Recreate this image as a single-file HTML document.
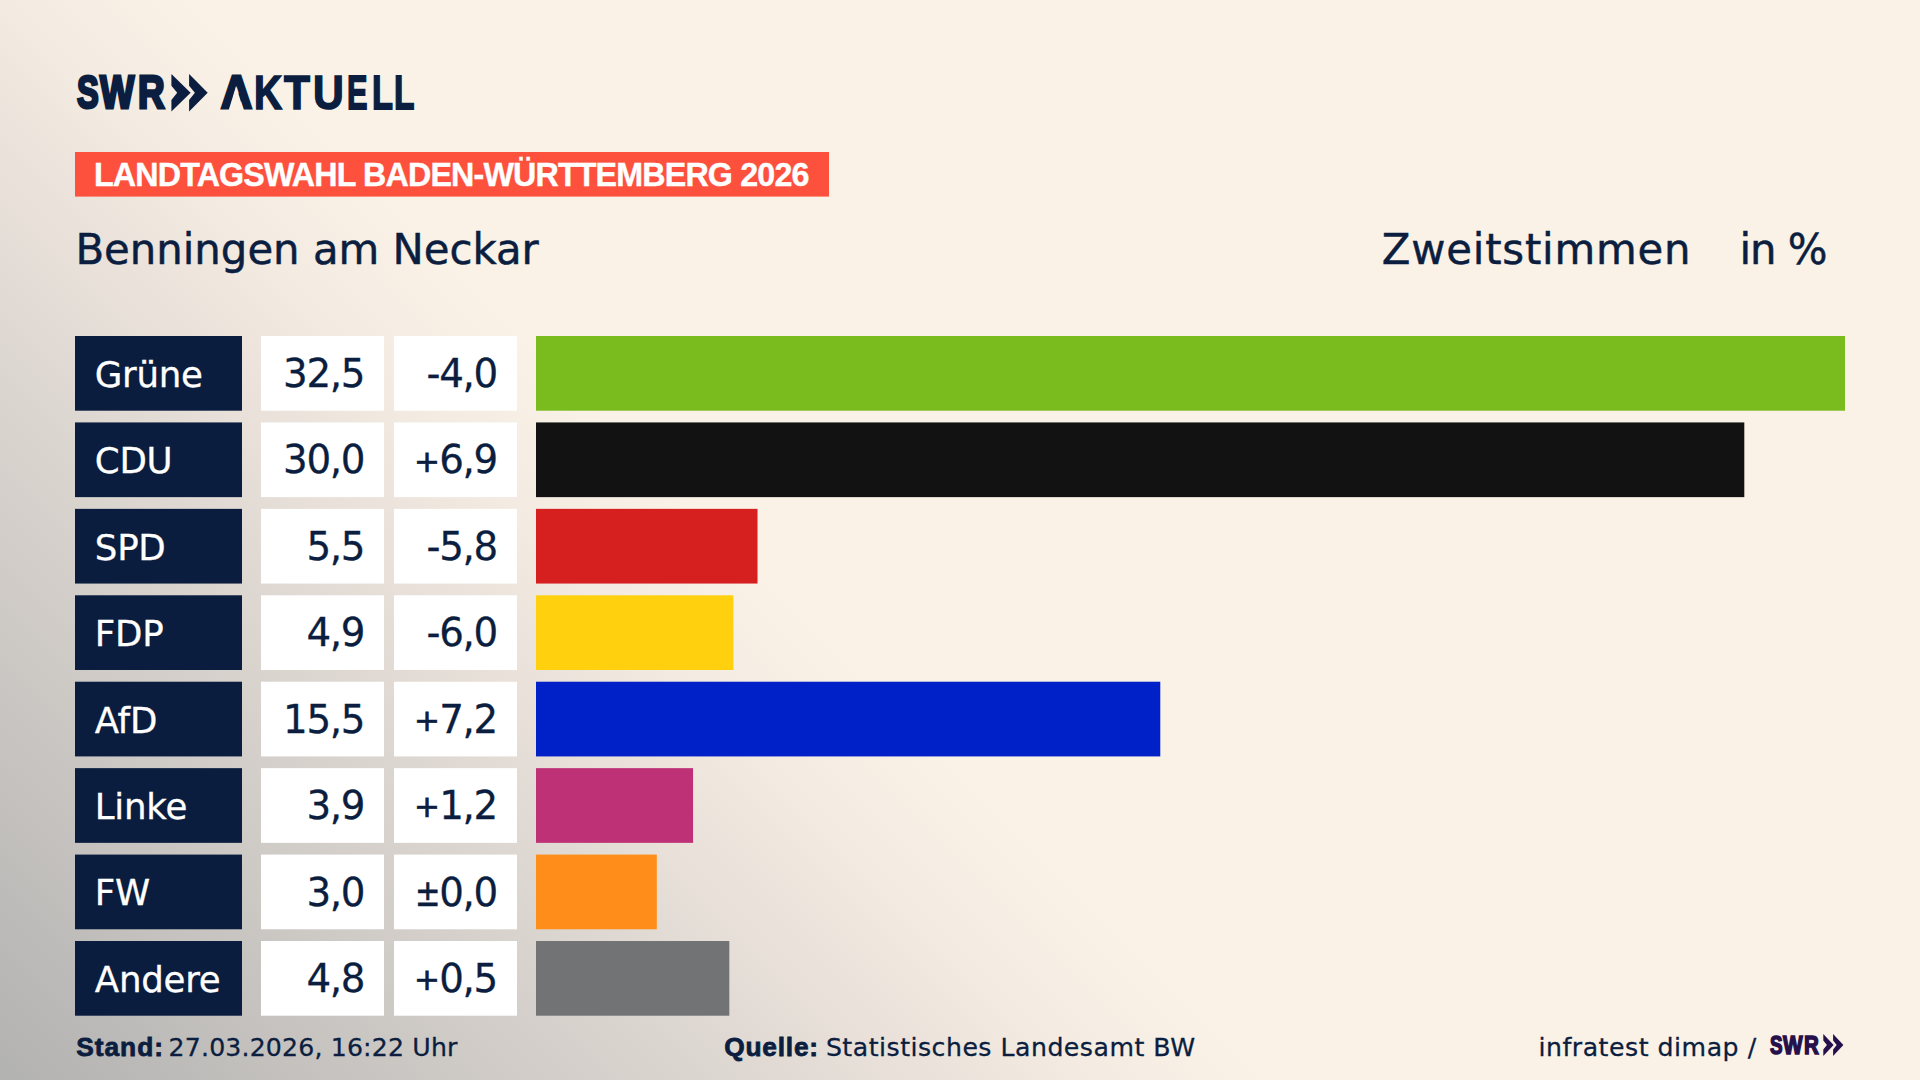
<!DOCTYPE html>
<html lang="de">
<head>
<meta charset="utf-8">
<title>Landtagswahl Baden-Württemberg 2026 – Benningen am Neckar – Zweitstimmen</title>
<style>
html,body{margin:0;padding:0;}
body{width:1920px;height:1080px;overflow:hidden;background:#faf2e7;}
#stage{position:relative;width:1920px;height:1080px;overflow:hidden;
 background:linear-gradient(45deg, rgb(178,178,177) 0%, rgb(196,193,190) 10%, rgb(213,208,203) 20%, rgb(232,224,217) 30%, rgb(243,234,225) 36%, rgb(250,242,231) 42.3%);
 font-family:"DejaVu Sans","Liberation Sans",sans-serif;color:#0b1e40;}
#shapes{position:absolute;left:0;top:0;}
.t{position:absolute;white-space:nowrap;line-height:1;}
.b{font-family:"Liberation Sans",sans-serif;font-weight:bold;}
.sx{display:inline-block;transform-origin:0 50%;}
.lt{display:inline-block;position:relative;transform-origin:0 50%;vertical-align:baseline;}
.cv{position:absolute;left:0;top:0;pointer-events:none;}
#banner{left:94.4px;top:158.3px;font-size:33.6px;color:#fff;letter-spacing:-0.87px;-webkit-text-stroke:0.4px #fff;}
#title{left:75.4px;top:229.0px;font-size:41.8px;-webkit-text-stroke:0.5px currentColor;}
#zw{left:1381.8px;top:229.0px;font-size:41.8px;letter-spacing:0.8px;-webkit-text-stroke:0.5px currentColor;}
#inp{left:1739.4px;top:229.0px;font-size:41.8px;letter-spacing:-1.0px;-webkit-text-stroke:0.5px currentColor;}
.row{position:absolute;left:0;width:1920px;height:74.7px;font-size:38.8px;line-height:74.7px;-webkit-text-stroke:0.3px currentColor;}
.row>span{position:absolute;top:0;white-space:nowrap;}
.lab{left:94.8px;color:#fff;font-size:35.6px;margin-top:1.8px;letter-spacing:-0.25px;}
.val{right:1555.8px;letter-spacing:-1.3px;margin-top:1.0px;}
.dif{right:1423.0px;letter-spacing:-1.3px;margin-top:1.0px;}
.sg{font-size:31px;position:relative;top:-1.8px;margin-right:0.5px;-webkit-text-stroke:0.7px currentColor;}
.pm{font-size:38px;top:0.5px;display:inline-block;transform:scaleX(.8);transform-origin:100% 50%;margin-right:0;}
.foot{font-size:25.2px;top:1035.3px;-webkit-text-stroke:0.3px currentColor;}
.fb{font-family:"Liberation Sans",sans-serif;font-weight:bold;font-size:26.3px;top:1033.7px;-webkit-text-stroke:0.8px currentColor;}
#f1b{left:76.2px;letter-spacing:1.0px;}
#f1{left:168.6px;letter-spacing:0.16px;}
#f2b{left:724.2px;letter-spacing:0.8px;}
#f2{left:825.9px;letter-spacing:0.49px;}
#f3{left:1538.4px;letter-spacing:0.52px;}
</style>
</head>
<body>
<div id="stage">
<svg id="shapes" width="1920" height="1080" viewBox="0 0 1920 1080">
<rect x="75" y="152" width="754" height="44.6" fill="#fd513d"/>
<rect x="75" y="336.00" width="167" height="74.7" fill="#0a1d3e"/>
<rect x="261" y="336.00" width="123" height="74.7" fill="#ffffff"/>
<rect x="394" y="336.00" width="123" height="74.7" fill="#ffffff"/>
<rect x="536" y="336.00" width="1309.00" height="74.7" fill="#7abb1d"/>
<rect x="75" y="422.43" width="167" height="74.7" fill="#0a1d3e"/>
<rect x="261" y="422.43" width="123" height="74.7" fill="#ffffff"/>
<rect x="394" y="422.43" width="123" height="74.7" fill="#ffffff"/>
<rect x="536" y="422.43" width="1208.31" height="74.7" fill="#121212"/>
<rect x="75" y="508.86" width="167" height="74.7" fill="#0a1d3e"/>
<rect x="261" y="508.86" width="123" height="74.7" fill="#ffffff"/>
<rect x="394" y="508.86" width="123" height="74.7" fill="#ffffff"/>
<rect x="536" y="508.86" width="221.52" height="74.7" fill="#d62020"/>
<rect x="75" y="595.29" width="167" height="74.7" fill="#0a1d3e"/>
<rect x="261" y="595.29" width="123" height="74.7" fill="#ffffff"/>
<rect x="394" y="595.29" width="123" height="74.7" fill="#ffffff"/>
<rect x="536" y="595.29" width="197.36" height="74.7" fill="#ffd00e"/>
<rect x="75" y="681.72" width="167" height="74.7" fill="#0a1d3e"/>
<rect x="261" y="681.72" width="123" height="74.7" fill="#ffffff"/>
<rect x="394" y="681.72" width="123" height="74.7" fill="#ffffff"/>
<rect x="536" y="681.72" width="624.29" height="74.7" fill="#0020c8"/>
<rect x="75" y="768.15" width="167" height="74.7" fill="#0a1d3e"/>
<rect x="261" y="768.15" width="123" height="74.7" fill="#ffffff"/>
<rect x="394" y="768.15" width="123" height="74.7" fill="#ffffff"/>
<rect x="536" y="768.15" width="157.08" height="74.7" fill="#be3176"/>
<rect x="75" y="854.58" width="167" height="74.7" fill="#0a1d3e"/>
<rect x="261" y="854.58" width="123" height="74.7" fill="#ffffff"/>
<rect x="394" y="854.58" width="123" height="74.7" fill="#ffffff"/>
<rect x="536" y="854.58" width="120.83" height="74.7" fill="#ff8d19"/>
<rect x="75" y="941.01" width="167" height="74.7" fill="#0a1d3e"/>
<rect x="261" y="941.01" width="123" height="74.7" fill="#ffffff"/>
<rect x="394" y="941.01" width="123" height="74.7" fill="#ffffff"/>
<rect x="536" y="941.01" width="193.33" height="74.7" fill="#727375"/>
<path fill="#0b1e40" d="M171.40 74.00 L190.60 92.80 L171.40 111.60 L171.40 99.90 L177.20 92.80 L171.40 85.70 Z M189.10 74.00 L207.70 92.80 L189.10 111.60 L189.10 99.90 L194.90 92.80 L189.10 85.70 Z"/>
<path fill="#25104b" d="M1823.30 1034.10 L1833.60 1045.00 L1823.30 1055.90 L1823.30 1049.60 L1826.90 1045.00 L1823.30 1040.40 Z M1833.10 1034.10 L1843.40 1045.00 L1833.10 1055.90 L1833.10 1049.60 L1836.70 1045.00 L1833.10 1040.40 Z"/>
</svg>
<div class="t b lg" style="left:77.12px;top:69.20px;font-size:46.08px;color:#0b1e40"><span class="lt" style="width:23.12px;top:0.00px;font-size:46.08px;-webkit-text-stroke:3.0px #0b1e40;transform:scaleX(0.706)">S</span><span class="lt" style="width:37.39px;top:0.00px;font-size:46.08px;-webkit-text-stroke:3.0px #0b1e40;transform:scaleX(0.787)">W</span><span class="lt" style="width:40.00px;top:0.00px;font-size:46.08px;-webkit-text-stroke:3.0px #0b1e40;transform:scaleX(0.800)">R</span></div>
<div class="t b lg" style="left:220.61px;top:67.91px;font-size:48.55px;color:#0b1e40"><span class="lt" style="width:33.82px;top:-0.70px;font-size:46.51px;-webkit-text-stroke:3.0px #0b1e40;transform:scaleX(0.921)">A</span><span class="lt" style="width:29.08px;top:0.00px;font-size:48.55px;-webkit-text-stroke:1.6px #0b1e40;transform:scaleX(0.801)">K</span><span class="lt" style="width:29.42px;top:0.00px;font-size:48.55px;-webkit-text-stroke:1.6px #0b1e40;transform:scaleX(0.875)">T</span><span class="lt" style="width:34.17px;top:0.00px;font-size:48.55px;-webkit-text-stroke:1.6px #0b1e40;transform:scaleX(0.877)">U</span><span class="lt" style="width:24.53px;top:-0.10px;font-size:48.26px;-webkit-text-stroke:1.8px #0b1e40;transform:scaleX(0.637)">E</span><span class="lt" style="width:22.34px;top:-0.10px;font-size:48.26px;-webkit-text-stroke:1.8px #0b1e40;transform:scaleX(0.711)">L</span><span class="lt" style="width:40.00px;top:-0.10px;font-size:48.26px;-webkit-text-stroke:1.8px #0b1e40;transform:scaleX(0.693)">L</span></div>
<svg class="cv" width="1920" height="1080" viewBox="0 0 1920 1080"><polygon fill="#faf2e7" points="236.07,85.99 243.63,110.63 228.56,110.63"/></svg>
<div class="t b" id="banner"><span class="sx" style="transform:scaleX(.96)">LANDTAGSWAHL BADEN-WÜRTTEMBERG 2026</span></div>
<div class="t" id="title">Benningen am Neckar</div>
<div class="t" id="zw">Zweitstimmen</div>
<div class="t" id="inp">in %</div>
<div class="row" style="top:336.00px"><span class="lab">Grüne</span><span class="val">32,5</span><span class="dif">-4,0</span></div>
<div class="row" style="top:422.43px"><span class="lab">CDU</span><span class="val">30,0</span><span class="dif"><span class="sg">+</span>6,9</span></div>
<div class="row" style="top:508.86px"><span class="lab">SPD</span><span class="val">5,5</span><span class="dif">-5,8</span></div>
<div class="row" style="top:595.29px"><span class="lab">FDP</span><span class="val">4,9</span><span class="dif">-6,0</span></div>
<div class="row" style="top:681.72px"><span class="lab">AfD</span><span class="val">15,5</span><span class="dif"><span class="sg">+</span>7,2</span></div>
<div class="row" style="top:768.15px"><span class="lab">Linke</span><span class="val">3,9</span><span class="dif"><span class="sg">+</span>1,2</span></div>
<div class="row" style="top:854.58px"><span class="lab">FW</span><span class="val">3,0</span><span class="dif"><span class="sg pm">±</span>0,0</span></div>
<div class="row" style="top:941.01px"><span class="lab">Andere</span><span class="val">4,8</span><span class="dif"><span class="sg">+</span>0,5</span></div>
<div class="t fb" id="f1b">Stand:</div>
<div class="t foot" id="f1">27.03.2026, 16:22 Uhr</div>
<div class="t fb" id="f2b">Quelle:</div>
<div class="t foot" id="f2">Statistisches Landesamt BW</div>
<div class="t foot" id="f3">infratest dimap /</div>
<div class="t b lg" style="left:1769.63px;top:1031.85px;font-size:26.16px;color:#25104b"><span class="lt" style="width:13.28px;top:0.00px;font-size:26.16px;-webkit-text-stroke:1.6px #25104b;transform:scaleX(0.718)">S</span><span class="lt" style="width:21.34px;top:0.00px;font-size:26.16px;-webkit-text-stroke:1.6px #25104b;transform:scaleX(0.793)">W</span><span class="lt" style="width:40.00px;top:0.00px;font-size:26.16px;-webkit-text-stroke:1.6px #25104b;transform:scaleX(0.785)">R</span></div>
</div>
</body>
</html>
